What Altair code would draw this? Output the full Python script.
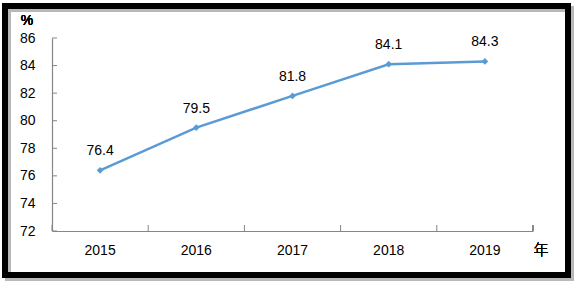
import altair as alt
import pandas as pd

years = ["2015", "2016", "2017", "2018", "2019"]
values = [76.4, 79.5, 81.8, 84.1, 84.3]
y_ticks = [72, 74, 76, 78, 80, 82, 84, 86]

df = pd.DataFrame({"year": years, "value": values})
ytick_df = pd.DataFrame({"value": y_ticks})

FONT = "Liberation Sans"
LINE = "#5b9bd5"
AXIS = "#868686"

xscale = alt.Scale(domain=years, paddingInner=0, paddingOuter=0)
yscale = alt.Scale(domain=[72, 86], nice=False, zero=False)

xaxis = alt.Axis(title=None, labelAngle=0, ticks=False, labelPadding=12,
                 labelFont=FONT, labelFontSize=14, labelColor="#000",
                 labelOverlap=False, domainColor=AXIS, domainWidth=1.2)
yaxis = alt.Axis(title=None, values=y_ticks, ticks=False, grid=False,
                 labelPadding=17, labelFont=FONT, labelFontSize=14,
                 labelOverlap=False, labelFlush=False,
                 labelColor="#000", domainColor=AXIS, domainWidth=1.2)

xq = alt.X("year:N", scale=xscale, sort=years, axis=xaxis)
yq = alt.Y("value:Q", scale=yscale, axis=yaxis)

base = alt.Chart(df)

shadow = base.mark_rect(fill=None, stroke="#b8b8b8", strokeWidth=6, opacity=0.7).encode(
    x=alt.value(-44), x2=alt.value(519), y=alt.value(-29), y2=alt.value(240))
frame = base.mark_rect(fill=None, stroke="#000", strokeWidth=6).encode(
    x=alt.value(-47), x2=alt.value(516), y=alt.value(-32), y2=alt.value(237))

line = base.mark_line(color=LINE, strokeWidth=2.5).encode(x=xq, y=yq)
pts = base.mark_point(shape="diamond", filled=True, color=LINE, size=45, opacity=1).encode(
    x=xq, y=yq)
labels = base.mark_text(font=FONT, fontSize=14, fontWeight="normal", color="#000", dy=-15,
                        baseline="alphabetic").encode(
    x=xq, y=yq, text=alt.Text("value:Q", format=".1f"))

yticks = alt.Chart(ytick_df).mark_rule(color=AXIS, strokeWidth=1).encode(
    x=alt.value(0), x2=alt.value(5), y=yq)
xticks = alt.Chart(df).mark_rule(color=AXIS, strokeWidth=1).encode(
    x=alt.X("year:N", scale=xscale, sort=years, bandPosition=0, axis=xaxis),
    y=alt.value(187), y2=alt.value(193))
xend = base.mark_rule(color=AXIS, strokeWidth=1).encode(
    x=alt.value(481), y=alt.value(187), y2=alt.value(193))

pct = base.mark_text(text="%", font=FONT, fontSize=14, fontWeight="normal", color="#000").encode(
    x=alt.value(-25), y=alt.value(-17))
nian = base.mark_text(text="年", font="Noto Sans CJK SC", fontSize=15, fontWeight=300,
                      color="#000").encode(x=alt.value(489), y=alt.value(212))

chart = alt.layer(shadow, frame, line, pts, labels, yticks, xticks, xend, pct, nian).properties(
    width=481, height=193,
    padding={"left": 52, "top": 38, "right": 46, "bottom": 57},
    autosize=alt.AutoSizeParams(type="none"),
    background="white",
).configure_view(stroke=None)

chart.save("out.html", embed_options={"renderer": "svg", "actions": False})
